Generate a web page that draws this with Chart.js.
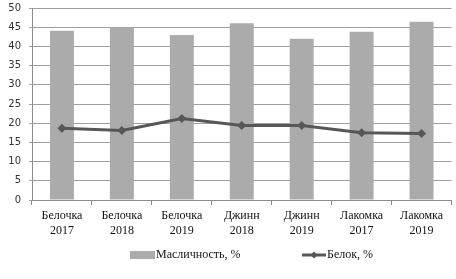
<!DOCTYPE html>
<html>
<head>
<meta charset="utf-8">
<script src="https://cdn.jsdelivr.net/npm/chart.js@4/dist/chart.umd.min.js"></script>
<style>
html,body{margin:0;padding:0;background:#fff;}
#wrap{width:456px;height:279px;position:relative;}
</style>
</head>
<body>
<div id="wrap"><canvas id="c" width="456" height="279"></canvas></div>
<script>
const categories = [['Белочка','2017'],['Белочка','2018'],['Белочка','2019'],['Джинн','2018'],['Джинн','2019'],['Лакомка','2017'],['Лакомка','2019']];
const oilValues = [44.1, 44.9, 43.0, 46.0, 42.0, 43.8, 46.4];
const proteinValues = [18.7, 18.1, 21.2, 19.4, 19.4, 17.5, 17.3];
const seriesNames = ['Масличность, %', 'Белок, %'];
const yTicks = [0,5,10,15,20,25,30,35,40,45,50];

const barColor = '#ababab';
const lineColor = '#575757';

const legendPlugin = {
  id: 'customLegend',
  afterDraw(chart) {
    const ctx = chart.ctx;
    ctx.save();
    const y = 255;
    ctx.fillStyle = barColor;
    ctx.fillRect(130, y - 4, 25, 8);
    ctx.fillStyle = '#111';
    ctx.font = '12px "Liberation Serif", "Times New Roman", serif';
    ctx.textBaseline = 'middle';
    ctx.textAlign = 'left';
    ctx.fillText(seriesNames[0], 156, y);
    ctx.strokeStyle = lineColor;
    ctx.lineWidth = 3;
    ctx.beginPath();
    ctx.moveTo(302, y);
    ctx.lineTo(326, y);
    ctx.stroke();
    ctx.fillStyle = lineColor;
    ctx.beginPath();
    ctx.moveTo(314, y - 3.5);
    ctx.lineTo(317.5, y);
    ctx.lineTo(314, y + 3.5);
    ctx.lineTo(310.5, y);
    ctx.closePath();
    ctx.fill();
    ctx.fillStyle = '#111';
    ctx.fillText(seriesNames[1], 327, y);
    ctx.restore();
  }
};

new Chart(document.getElementById('c'), {
  data: {
    labels: categories,
    datasets: [
      {
        type: 'line',
        label: seriesNames[1],
        data: proteinValues,
        borderColor: lineColor,
        backgroundColor: lineColor,
        borderWidth: 3,
        pointStyle: 'rectRot',
        pointRadius: 4.5,
        pointBackgroundColor: lineColor,
        pointBorderWidth: 0,
        tension: 0,
        order: 0
      },
      {
        type: 'bar',
        label: seriesNames[0],
        data: oilValues,
        backgroundColor: barColor,
        borderWidth: 0,
        barPercentage: 0.4,
        categoryPercentage: 1.0,
        order: 1
      }
    ]
  },
  options: {
    responsive: false,
    animation: false,
    devicePixelRatio: 1,
    layout: { padding: { top: 8, right: 4, left: 0, bottom: 0 } },
    plugins: {
      legend: { display: false },
      tooltip: { enabled: false }
    },
    scales: {
      x: {
        offset: true,
        grid: {
          offset: true,
          drawOnChartArea: false,
          drawTicks: true,
          tickLength: 5,
          color: '#8c8c8c'
        },
        border: { color: '#8c8c8c', width: 1 },
        ticks: {
          color: '#111',
          font: { family: '"Liberation Serif", "Times New Roman", serif', size: 12, lineHeight: 1.2 },
          padding: 4,
          maxRotation: 0,
          autoSkip: false
        },
        afterFit(scale) { scale.height = 79; scale.paddingLeft = 0; scale.paddingRight = 0; }
      },
      y: {
        min: 0,
        max: 50,
        afterBuildTicks(scale) { scale.ticks = yTicks.map(v => ({ value: v })); },
        grid: {
          color: '#a0a0a0',
          tickLength: 3,
          lineWidth: 1
        },
        border: { color: '#8c8c8c', width: 1 },
        ticks: {
          color: '#333',
          font: { family: '"DejaVu Sans", Verdana, sans-serif', size: 10 },
          padding: 8
        },
        afterFit(scale) { scale.width = 32; scale.paddingTop = 0; scale.paddingBottom = 0; }
      }
    }
  },
  plugins: [legendPlugin]
});
</script>
</body>
</html>
